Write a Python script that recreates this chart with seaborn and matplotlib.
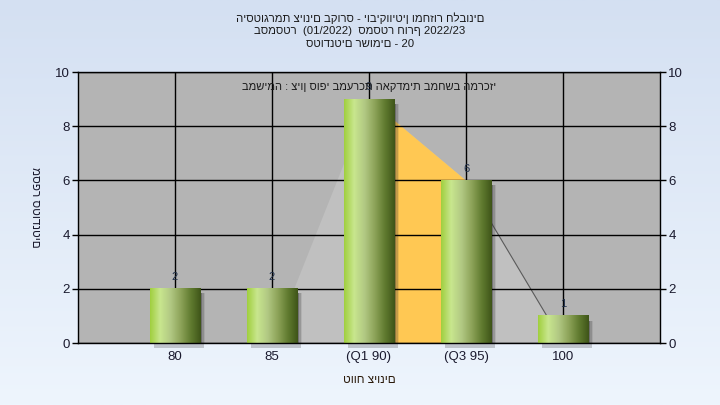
import numpy as np
import matplotlib
matplotlib.use("Agg")
import matplotlib.pyplot as plt
import seaborn as sns
from matplotlib.patches import Rectangle
from matplotlib.colors import LinearSegmentedColormap

# chart data
grade_labels = ["80", "85", "(Q1 90)", "(Q3 95)", "100"]
student_counts = [2, 2, 9, 6, 1]
curve_values = [0, 0, 9, 6, 0]      # light gray overlay behind the bars
iqr_span = [2, 3]                   # Q1..Q3 band (orange)
y_ticks = [0, 2, 4, 6, 8, 10]

title_lines = [
    "היסטוגרמת ציונים בקורס - יוביקוויטין ומחזור חלבונים",
    "בסמסטר  (01/2022)  סמסטר חורף 2022/23",
    "סטודנטים רשומים - 20",
]
subtitle = "במשימה : ציון סופי במערכת האקדמית במחשב המרכזי"
x_title = "טווח ציונים"
y_title = "מספר סטודנטים"

sns.set_style("white")
plt.rcParams["font.family"] = ["Liberation Sans", "DejaVu Sans"]

fig = plt.figure(figsize=(7.2, 4.05), dpi=100)

# soft blue page background
bg = fig.add_axes([0, 0, 1, 1], zorder=-10)
grad = np.linspace(0, 1, 256).reshape(-1, 1)
bg_cmap = LinearSegmentedColormap.from_list("bg", ["#d4e0f2", "#eef5fd"])
bg.imshow(grad, aspect="auto", cmap=bg_cmap, extent=[0, 1, 0, 1], origin="upper")
bg.axis("off")

ax = fig.add_axes([0.1083, 0.153, 0.8084, 0.669])
ax.set_facecolor("#b4b4b4")

x_pos = np.arange(len(grade_labels))

# distribution overlay and Q1-Q3 band
ax.fill_between(x_pos, curve_values, color="#c0c0c0", zorder=1, lw=0)
band = (x_pos >= iqr_span[0]) & (x_pos <= iqr_span[1])
ax.fill_between(x_pos[band], np.array(curve_values)[band], color="#ffc853", zorder=1.2, lw=0)
ax.plot(x_pos[3:], np.array(curve_values)[3:], color="#5a5a5a", lw=0.8, zorder=1.3)

sns.barplot(x=grade_labels, y=student_counts, ax=ax, width=0.52,
            color="#8cb044", saturation=1, zorder=3, edgecolor="none")

bar_cmap = LinearSegmentedColormap.from_list(
    "bar", ["#a0cf3e", "#c8e68e", "#b2c984", "#8ea45a", "#617c30", "#3e5418"])
bar_grad = np.linspace(0, 1, 256).reshape(1, -1)
for patch in ax.patches:
    x0, y0 = patch.get_x(), patch.get_y()
    w, h = patch.get_width(), patch.get_height()
    # drop shadow to the right / below
    for i, a in enumerate([0.35, 0.2, 0.1]):
        ax.add_patch(Rectangle((x0 + w, y0 - 0.12), 0.018 * (i + 1), h - 0.05,
                               color="#303030", alpha=a, lw=0, zorder=2.5))
    ax.add_patch(Rectangle((x0 + 0.04, -0.2), w, 0.2, color="#404040",
                           alpha=0.25, lw=0, zorder=2.5, clip_on=False))
    ax.imshow(bar_grad, aspect="auto", cmap=bar_cmap,
              extent=[x0, x0 + w, y0, y0 + h], zorder=3.5)

for xi, v in zip(x_pos, student_counts):
    ax.text(xi, v + 0.25, str(v), ha="center", va="bottom",
            fontsize=8, color="#20304a", zorder=5)

ax.set_xlim(-1, 5)
ax.set_ylim(0, 10)
ax.set_yticks(y_ticks)
ax.set_xticks(x_pos)
ax.set_xticklabels(grade_labels)
ax.grid(True, color="black", lw=1.0, zorder=0.5)
ax.set_axisbelow(False)
for gl in ax.get_xgridlines() + ax.get_ygridlines():
    gl.set_zorder(1.1)
for sp in ax.spines.values():
    sp.set_color("black")
    sp.set_linewidth(1.0)
    sp.set_zorder(6)
ax.tick_params(axis="both", direction="out", length=4, width=1,
               color="black", labelsize=9.5, labelcolor="#1a1a2e", pad=2)

ax2 = ax.twinx()
ax2.set_ylim(0, 10)
ax2.set_yticks(y_ticks)
ax2.tick_params(axis="y", direction="out", length=4, width=1,
                color="black", labelsize=9.5, labelcolor="#1a1a2e", pad=2)
for sp in ax2.spines.values():
    sp.set_visible(False)

ax.set_xlabel(x_title, fontsize=8.5, color="#2a1a0a", labelpad=8)
ax.set_ylabel(y_title, fontsize=8.5, color="#1a1a2e", labelpad=14, rotation=270,
              va="center")

ax.text(2, 9.45, subtitle, ha="center", va="center", fontsize=8,
        color="#1a1a1a", zorder=6)

for i, line in enumerate(title_lines):
    fig.text(0.5, 1 - (18 + 13 * i) / 405, line, ha="center", va="center",
             fontsize=8.2, color="#1a1a1a")

fig.savefig("out.png", dpi=100)
